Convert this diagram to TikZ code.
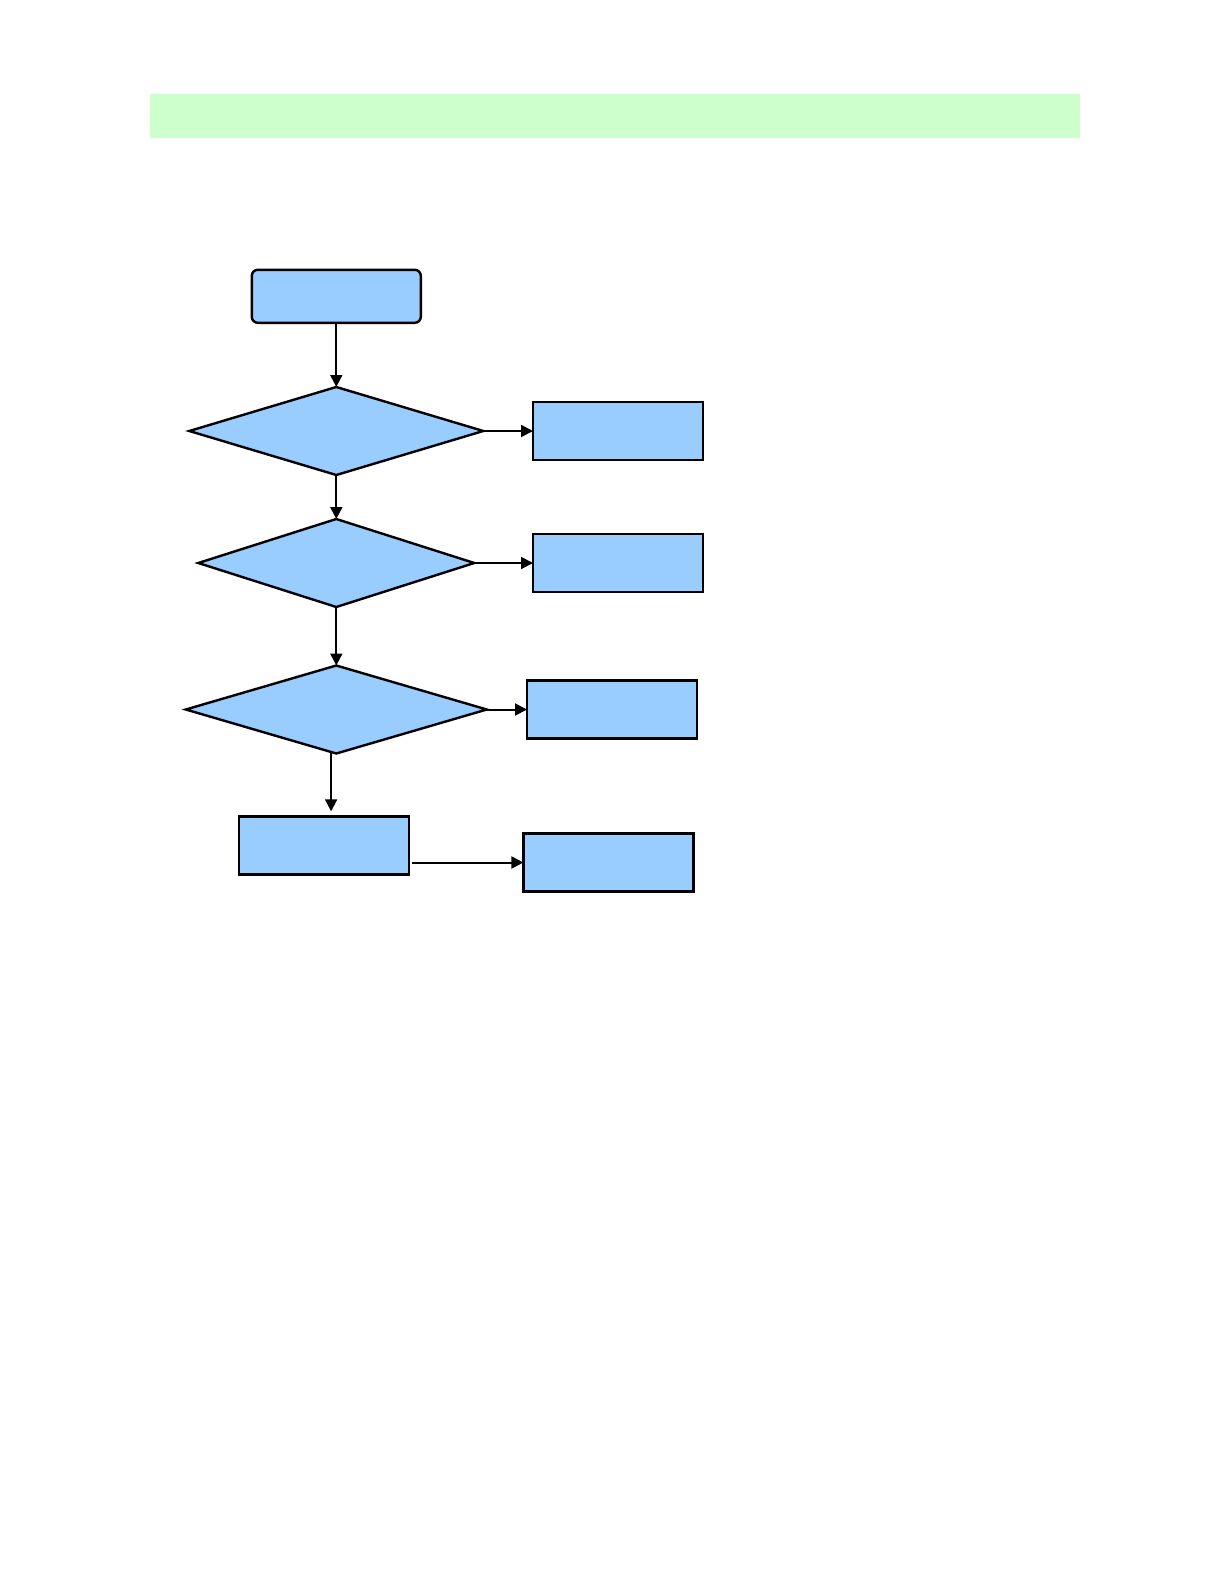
\documentclass[tikz,border=0pt]{standalone}
\usetikzlibrary{shapes.geometric,arrows.meta}
\definecolor{bandgreen}{HTML}{CCFFCC}
\definecolor{boxblue}{HTML}{99CCFF}
\begin{document}
\begin{tikzpicture}[x=0.5pt,y=-0.5pt,
  every node/.style={inner sep=0pt,outer sep=0pt},
  boxstyle/.style={draw=black,fill=boxblue,line width=1.2pt,rectangle,minimum width=85pt,minimum height=29pt},
  startstyle/.style={boxstyle,rounded corners=3pt,minimum height=26.5pt},
  decstyle/.style={draw=black,fill=boxblue,line width=1.2pt,diamond,minimum height=44pt},
  conn/.style={line width=1pt,-{Triangle[length=6pt,width=6pt]}}]
\useasboundingbox (0,0) rectangle (1224,1584);
\fill[bandgreen] (149.5,94) rectangle (1079.5,138.5);
\node[startstyle,minimum width=84.5pt] (start) at (336.3,296.3) {};
\node[decstyle,minimum width=147pt] (d1) at (336.3,431) {};
\node[decstyle,minimum width=138pt] (d2) at (336.3,563) {};
\node[decstyle,minimum width=150.5pt] (d3) at (336.3,709.5) {};
\node[boxstyle] (r1) at (618,431) {};
\node[boxstyle] (r2) at (618,563) {};
\node[boxstyle] (r3) at (612,709.5) {};
\node[boxstyle] (b) at (324.2,845.3) {};
\node[boxstyle] (r4) at (608.4,862.5) {};
\coordinate (bout) at ([xshift=1.5pt]b.east |- r4.west);
\coordinate (d3out) at ([xshift=-2.6pt,yshift=0.8pt]d3.south);
\draw[conn] (start.south) -- (d1.north);
\draw[conn] (d1.south) -- (d2.north);
\draw[conn] (d2.south) -- (d3.north);
\draw[conn,shorten >=2.5pt] (d3out) -- (d3out |- b.north);
\draw[conn] (d1.east) -- (r1.west);
\draw[conn] (d2.east) -- (r2.west);
\draw[conn] (d3.east) -- (r3.west);
\draw[conn] (bout) -- (r4.west);
\end{tikzpicture}
\end{document}
